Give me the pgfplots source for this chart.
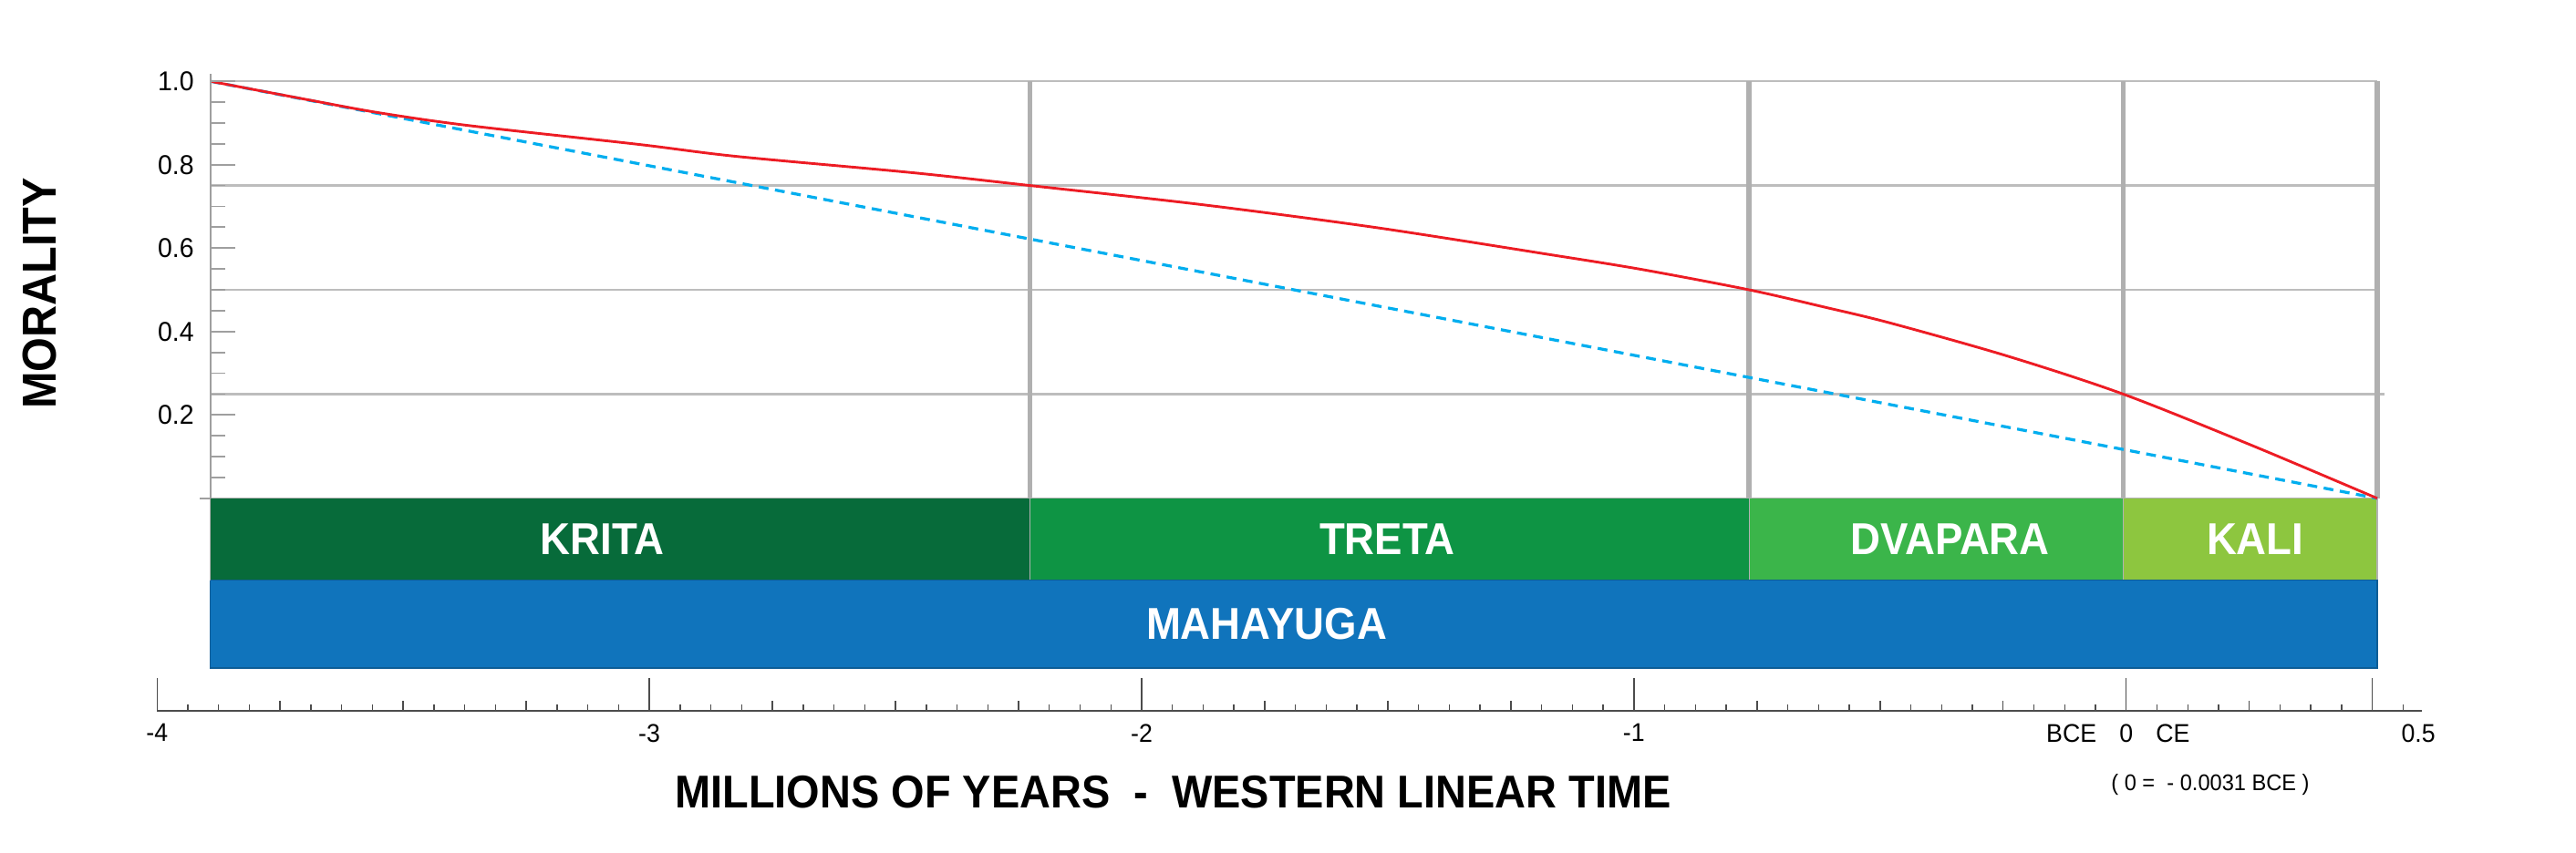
\documentclass[border=0pt]{standalone}
\usepackage{pgfplots}
\pgfplotsset{compat=1.18}
\usepackage{fontspec}
\setmainfont{Liberation Sans}
\newfontfamily\cbf{Liberation Sans}[FakeStretch=0.93]
\newfontfamily\tkf{Liberation Sans}[FakeStretch=0.95]
\definecolor{krita}{HTML}{076B3A}
\definecolor{treta}{HTML}{0E9444}
\definecolor{dvapara}{HTML}{3BB54A}
\definecolor{kali}{HTML}{8DC63F}
\definecolor{maha}{HTML}{1074BC}
\definecolor{redline}{HTML}{ED1C24}
\definecolor{cyanline}{HTML}{00AEEF}
\definecolor{gridc}{HTML}{BDBDBD}
\definecolor{vlinec}{HTML}{B0B0B0}
\begin{document}
\begin{tikzpicture}
\useasboundingbox (-47.8bp,-43bp) rectangle (736.2bp,216.5bp);
\begin{axis}[
  at={(0,0)}, anchor=south west,
  x=149.825bp, y=127bp,
  xmin=-4, xmax=0.6, ymin=-0.5098, ymax=1.0,
  axis x line=bottom, axis y line=none,
  every outer x axis line/.append style={-},
  axis line style={-, black!70, line width=0.5bp},
  clip=false,
  xtick={-4,-3,-2,-1,0,0.5},
  xticklabels={-4,-3,-2,-1,{\llap{BCE\hspace{7bp}}0\rlap{\hspace{7bp}CE}},{\hspace*{28bp}0.5}},
  minor xtick={-3.75,-3.5,-3.25,-2.75,-2.5,-2.25,-1.75,-1.5,-1.25,-0.75,-0.5,-0.25,0.25},
  extra x ticks={-4,-3.9375,...,0.5625},
  extra x tick labels={},
  extra x tick style={major tick length=1.9bp},
  major tick length=10bp, minor tick length=3.2bp,
  tick align=inside,
  tick style={black!70, line width=0.4bp},
  xticklabel style={font=\tkf\fontsize{7.8bp}{9bp}\selectfont, yshift=-0.5bp},
]
% horizontal grid lines
\addplot[gridc, line width=0.7bp] coordinates {(-3.8918,1.0) (0.5099,1.0)};
\addplot[gridc, line width=0.7bp] coordinates {(-3.8918,0.75) (0.5099,0.75)};
\addplot[gridc, line width=0.7bp] coordinates {(-3.8918,0.5) (0.5099,0.5)};
\addplot[gridc, line width=0.7bp] coordinates {(-3.8918,0.25) (0.525,0.25)};
% yuga boundary lines
\addplot[vlinec, line width=1.5bp] coordinates {(-2.2266,0) (-2.2266,1.0)};
\addplot[vlinec, line width=1.5bp] coordinates {(-0.7662,0) (-0.7662,1.0)};
\addplot[vlinec, line width=1.5bp] coordinates {(-0.0063,0) (-0.0063,1.0)};
\addplot[vlinec, line width=1.5bp] coordinates {(0.5099,0) (0.5099,1.0)};
% yuga bars
\addplot[draw=black!30, line width=0.3bp, fill=krita] coordinates {(-3.8918,0) (-2.2266,0) (-2.2266,-0.196) (-3.8918,-0.196) (-3.8918,0)};
\addplot[draw=black!30, line width=0.3bp, fill=treta] coordinates {(-2.2266,0) (-0.7662,0) (-0.7662,-0.196) (-2.2266,-0.196) (-2.2266,0)};
\addplot[draw=black!30, line width=0.3bp, fill=dvapara] coordinates {(-0.7662,0) (-0.0063,0) (-0.0063,-0.196) (-0.7662,-0.196) (-0.7662,0)};
\addplot[draw=black!30, line width=0.3bp, fill=kali] coordinates {(-0.0063,0) (0.5099,0) (0.5099,-0.196) (-0.0063,-0.196) (-0.0063,0)};
\addplot[draw=maha!80!black, line width=0.4bp, fill=maha] coordinates {(-3.8918,-0.196) (0.5099,-0.196) (0.5099,-0.407) (-3.8918,-0.407) (-3.8918,-0.196)};
% linear decline (dashed)
\addplot[cyanline, line width=0.9bp, dash pattern=on 3bp off 2bp] coordinates {(-3.8918,1.0) (0.5099,0)};
% morality curve
\addplot[redline, line width=0.8bp, smooth, tension=0.5] coordinates {
(-3.8918,1.0) (-3.6950,0.956) (-3.5515,0.925) (-3.3680,0.894) (-3.0242,0.849)
(-2.8240,0.820) (-2.4669,0.781) (-2.2266,0.75) (-1.8762,0.704) (-1.5224,0.649)
(-1.1687,0.584) (-0.9852,0.549) (-0.7662,0.5) (-0.6147,0.459) (-0.4812,0.421)
(-0.2409,0.341) (-0.0063,0.25) (0.2530,0.128) (0.5099,0.0)};
% labels
\node[text=white, font=\cbf\bfseries\fontsize{13.6bp}{15bp}\selectfont] at (axis cs:-3.095,-0.098) {KRITA};
\node[text=white, font=\cbf\bfseries\fontsize{13.6bp}{15bp}\selectfont] at (axis cs:-1.501,-0.098) {TRETA};
\node[text=white, font=\cbf\bfseries\fontsize{13.6bp}{15bp}\selectfont] at (axis cs:-0.358,-0.098) {DVAPARA};
\node[text=white, font=\cbf\bfseries\fontsize{13.6bp}{15bp}\selectfont] at (axis cs:0.262,-0.098) {KALI};
\node[text=white, font=\cbf\bfseries\fontsize{13.6bp}{15bp}\selectfont] at (axis cs:-1.746,-0.3015) {MAHAYUGA};
\node[rotate=90, font=\cbf\bfseries\fontsize{14.5bp}{16bp}\selectfont] at (axis cs:-4.238,0.4917) {MORALITY};
\node[font=\cbf\bfseries\fontsize{14bp}{16bp}\selectfont] at (axis cs:-1.936,-0.705) {MILLIONS OF YEARS \ - \ WESTERN LINEAR TIME};
\node[font=\tkf\fontsize{6.9bp}{8bp}\selectfont] at (axis cs:0.1709,-0.687) {( 0 = \ - 0.0031 BCE )};
\end{axis}
\begin{axis}[
  at={(16.211bp,64.745bp)}, anchor=south west,
  x=149.825bp, y=127bp,
  xmin=-3.8918, xmax=0.5099, ymin=0, ymax=1.018,
  axis x line=none, axis y line=left,
  every outer y axis line/.append style={-},
  axis line style={-, gray!75, line width=0.6bp},
  ytick={0.2,0.4,0.6,0.8,1.0},
  yticklabels={0.2,0.4,0.6,0.8,1.0},
  minor ytick={0.05,0.1,0.15,0.25,0.3,0.35,0.45,0.5,0.55,0.65,0.7,0.75,0.85,0.9,0.95},
  extra y ticks={0}, extra y tick labels={},
  extra y tick style={tick align=outside, major tick length=3.2bp},
  tick align=inside,
  major tick length=7.5bp, minor tick length=4.5bp,
  tick style={gray!75, line width=0.5bp},
  yticklabel style={font=\tkf\fontsize{8.3bp}{9.5bp}\selectfont, xshift=-1.5bp},
]
\end{axis}
\end{tikzpicture}
\end{document}
